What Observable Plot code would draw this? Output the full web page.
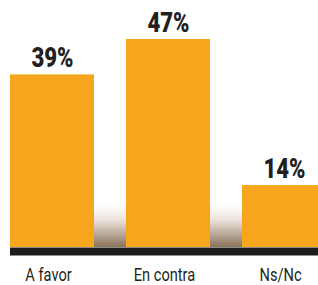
<!DOCTYPE html>
<html>
<head>
<meta charset="utf-8">
<script src="https://cdn.jsdelivr.net/npm/d3@7"></script>
<script src="https://cdn.jsdelivr.net/npm/@observablehq/plot@0.6"></script>
<style>
  html, body { margin: 0; padding: 0; background: #fff; overflow: hidden; }
  #chart svg { display: block; }
</style>
</head>
<body>
<div id="chart"></div>
<script>
const categories = ["A favor", "En contra", "Ns/Nc"];
const values = [39, 47, 14];
const valueLabels = ["39%", "47%", "14%"];
const shadowCategories = ["A favor", "En contra"];
const shadowHeight = 9.5;

const data = categories.map((c, i) => ({category: c, value: values[i], label: valueLabels[i]}));
const shadows = shadowCategories.map(c => ({category: c, value: shadowHeight}));

const font = "Roboto, 'Liberation Sans', sans-serif";

const chart = Plot.plot({
  width: 318,
  height: 285,
  marginLeft: 10,
  marginRight: 0,
  marginTop: 0,
  marginBottom: 38,
  style: {background: "#fff"},
  x: {domain: categories, range: [10, 326], paddingInner: 0.276, paddingOuter: 0, axis: null},
  y: {domain: [0, 47], range: [247, 39], axis: null},
  marks: [
    Plot.barY(shadows, {x: "category", y: "value", fill: "url(#shadowGrad)", insetRight: -33}),
    Plot.barY(data, {x: "category", y: "value", fill: "#F6A51D"}),
    Plot.ruleY([0], {stroke: "#1f1c1d", strokeWidth: 8, dy: 4}),
    Plot.text(data, {x: "category", y: "value", text: "label", lineAnchor: "bottom", dy: -8,
      fontSize: 27, fontWeight: 900, fontFamily: font, fill: "#231f20"}),
    Plot.text(data, {x: "category", y: () => 0, text: "category", lineAnchor: "middle", dy: 27, dx: -4,
      fontSize: 19, fontFamily: font, fill: "#231f20", className: "cat"})
  ]
});

const svg = d3.select(chart);
const defs = svg.insert("defs", ":first-child");
const g = defs.append("linearGradient").attr("id", "shadowGrad")
  .attr("x1", 0).attr("y1", 0).attr("x2", 0).attr("y2", 1);
g.append("stop").attr("offset", "0").attr("stop-color", "#ffffff");
g.append("stop").attr("offset", "0.35").attr("stop-color", "#ebe4dc");
g.append("stop").attr("offset", "1").attr("stop-color", "#8a735c");

// condense text horizontally to mimic the condensed typeface
svg.selectAll("g[aria-label='text']").each(function(_, gi) {
  const s = gi === 0 ? 0.82 : 0.77;
  d3.select(this).selectAll("text").each(function() {
    const t = d3.select(this);
    const tr = t.attr("transform");
    if (tr) {
      t.attr("transform", tr + ` scale(${s},1)`);
    } else {
      const x = +t.attr("x") || 0;
      t.attr("transform", `translate(${x},0) scale(${s},1) translate(${-x},0)`);
    }
  });
});

document.getElementById("chart").appendChild(chart);
</script>
</body>
</html>
